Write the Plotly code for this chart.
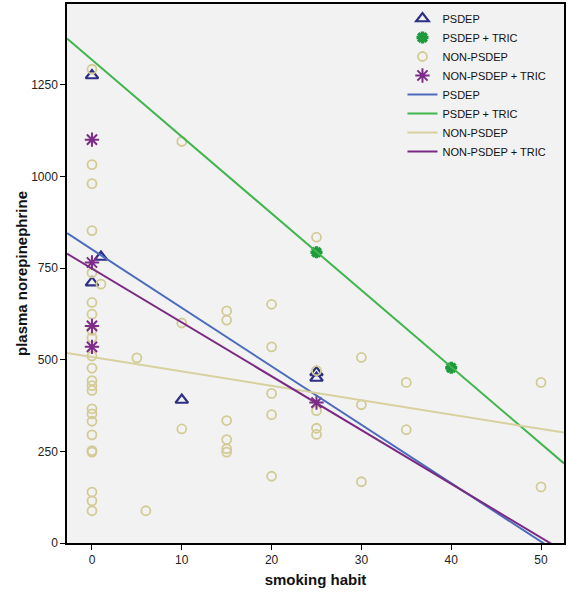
import plotly.graph_objects as go

# ---- data ----
psdep_x = [0, 1, 0, 10, 25, 25]
psdep_y = [1275, 780, 710, 390, 465, 450]

tric_x = [25, 40]
tric_y = [793, 478]

non_x = [0] * 23 + [1, 5, 6] + [10] * 3 + [15] * 6 + [20] * 5 + [25] * 5 + [30] * 3 + [35] * 2 + [50] * 2
non_y = [1292, 1032, 980, 852, 737, 656, 624, 580, 560, 510, 477, 443, 429, 416,
         366, 352, 332, 295, 252, 248, 139, 115, 88,
         706, 505, 88,
         1095, 600, 311,
         633, 608, 334, 282, 257, 248,
         651, 535, 408, 350, 182,
         834, 470, 361, 313, 296,
         506, 377, 167,
         438, 309,
         438, 153]

nontric_x = [0, 0, 0, 0, 25]
nontric_y = [1100, 765, 592, 535, 383]

# fit lines (values read at the left and right plot edges)
fit_x = [-2.78, 52.56]
psdep_fit = [845, -37]
tric_fit = [1376, 217]
non_fit = [518, 301]
nontric_fit = [789, -23]

x_ticks = [0, 10, 20, 30, 40, 50]
y_ticks = [0, 250, 500, 750, 1000, 1250]

C_PS = "#2e2f85"
C_TR = "#1e9a3c"
C_NON = "#d3cb96"
C_NT = "#7d2c88"
L_PS = "#4c6bbb"
L_TR = "#3fb54b"
L_NON = "#d8d09e"
L_NT = "#7b2a84"

fig = go.Figure()
fig.add_trace(go.Scatter(x=psdep_x, y=psdep_y, mode="markers", name="PSDEP",
                         marker=dict(symbol="triangle-up-open", size=11, color=C_PS,
                                     line=dict(width=2.2, color=C_PS))))
fig.add_trace(go.Scatter(x=tric_x, y=tric_y, mode="markers", name="PSDEP + TRIC",
                         marker=dict(symbol="asterisk-open", size=10, color=C_TR,
                                     line=dict(width=3.5, color=C_TR))))
fig.add_trace(go.Scatter(x=non_x, y=non_y, mode="markers", name="NON-PSDEP",
                         marker=dict(symbol="circle-open", size=9, color=C_NON,
                                     line=dict(width=1.8, color=C_NON))))
fig.add_trace(go.Scatter(x=nontric_x, y=nontric_y, mode="markers", name="NON-PSDEP + TRIC",
                         marker=dict(symbol="asterisk-open", size=12, color=C_NT,
                                     line=dict(width=2, color=C_NT))))
fig.add_trace(go.Scatter(x=fit_x, y=psdep_fit, mode="lines", name="PSDEP",
                         line=dict(color=L_PS, width=2)))
fig.add_trace(go.Scatter(x=fit_x, y=tric_fit, mode="lines", name="PSDEP + TRIC",
                         line=dict(color=L_TR, width=2)))
fig.add_trace(go.Scatter(x=fit_x, y=non_fit, mode="lines", name="NON-PSDEP",
                         line=dict(color=L_NON, width=2)))
fig.add_trace(go.Scatter(x=fit_x, y=nontric_fit, mode="lines", name="NON-PSDEP + TRIC",
                         line=dict(color=L_NT, width=2)))

fig.update_layout(
    width=568, height=600,
    margin=dict(l=67, r=3, t=2, b=57),
    paper_bgcolor="white",
    plot_bgcolor="#f2f2f2",
    font=dict(family="Liberation Sans, Arial, sans-serif", size=12, color="#222"),
    showlegend=True,
    legend=dict(x=0.675, y=1, xanchor="left", yanchor="top",
                bgcolor="rgba(0,0,0,0)", borderwidth=0,
                font=dict(size=11, color="#111"),
                tracegroupgap=0, itemwidth=30),
    xaxis=dict(range=fit_x, tickmode="array", tickvals=x_ticks,
               showgrid=False, zeroline=False,
               showline=True, mirror=True, linecolor="black", linewidth=1.5,
               ticks="outside", ticklen=5, tickwidth=1, tickcolor="black",
               tickfont=dict(size=12, color="#222"),
               title=dict(text="<b>smoking habit</b>", font=dict(size=15, color="#111"),
                          standoff=8)),
    yaxis=dict(range=[0, 1470], tickmode="array", tickvals=y_ticks,
               showgrid=False, zeroline=False,
               showline=True, mirror=True, linecolor="black", linewidth=1.5,
               ticks="outside", ticklen=5, tickwidth=1, tickcolor="black",
               tickfont=dict(size=12, color="#222"),
               title=dict(text="<b>plasma norepinephrine</b>", font=dict(size=15, color="#111"),
                          standoff=0)),
)

fig.write_html("out.html", config={"displayModeBar": False},
               post_script="document.body.style.margin='0';document.body.style.padding='0';")
